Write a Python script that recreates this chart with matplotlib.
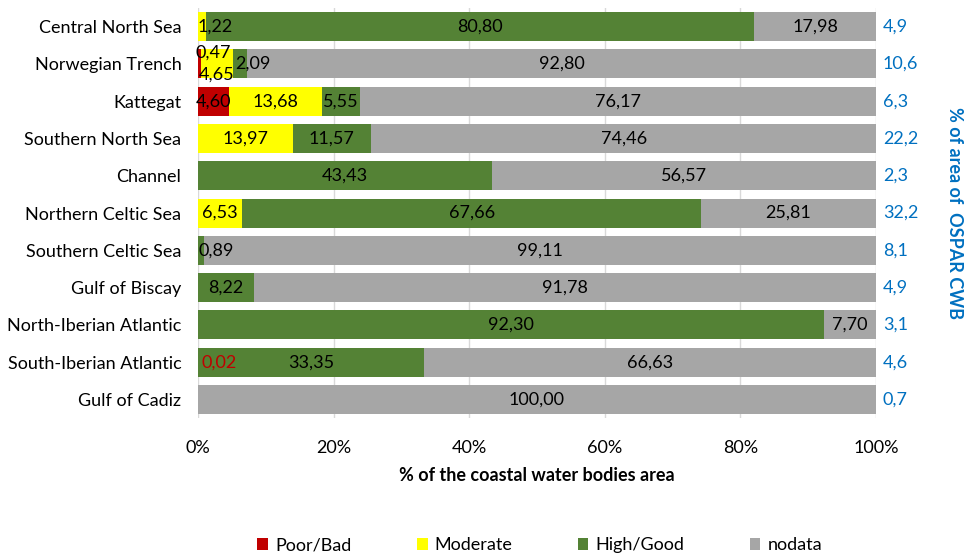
import matplotlib
matplotlib.use("Agg")
import matplotlib.pyplot as plt
import numpy as np

plt.rcParams['font.family'] = ['Lato', 'DejaVu Sans']

categories = ["Central North Sea", "Norwegian Trench", "Kattegat", "Southern North Sea",
              "Channel", "Northern Celtic Sea", "Southern Celtic Sea", "Gulf of Biscay",
              "North-Iberian Atlantic", "South-Iberian Atlantic", "Gulf of Cadiz"]
poor = [0, 0.47, 4.60, 0, 0, 0, 0, 0, 0, 0.02, 0]
moderate = [1.22, 4.65, 13.68, 13.97, 0, 6.53, 0, 0, 0, 0, 0]
good = [80.80, 2.09, 5.55, 11.57, 43.43, 67.66, 0.89, 8.22, 92.30, 33.35, 0]
nodata = [17.98, 92.80, 76.17, 74.46, 56.57, 25.81, 99.11, 91.78, 7.70, 66.63, 100.00]
area_share = ["4,9", "10,6", "6,3", "22,2", "2,3", "32,2", "8,1", "4,9", "3,1", "4,6", "0,7"]
series_names = ["Poor/Bad", "Moderate", "High/Good", "nodata"]
colors = ["#C00000", "#FFFF00", "#548235", "#A6A6A6"]
xticks = [0, 20, 40, 60, 80, 100]

FS = 13

fig = plt.figure(figsize=(9.64, 5.53), dpi=100)
ax = fig.add_axes([0.2054, 0.244, 0.7033, 0.7415])

y = np.arange(len(categories))
series = [poor, moderate, good, nodata]
left = np.zeros(len(categories))
h = 0.78
for vals, name, col in zip(series, series_names, colors):
    vals = np.array(vals, dtype=float)
    ax.barh(y, vals, left=left, height=h, color=col, label=name, zorder=2)
    for i, v in enumerate(vals):
        if v <= 0:
            continue
        txt = f"{v:.2f}".replace(".", ",")
        tcol = "black"
        yy = y[i]
        if v < 3 and not (name == "Moderate" and categories[i] == "Norwegian Trench"):
            x = left[i] + (0.3 if v > 1.5 else 0)
            ha = "left"
        else:
            x = left[i] + v / 2
            ha = "center"
        if categories[i] == "Norwegian Trench" and name == "Poor/Bad":
            yy = y[i] - 0.3
            x = left[i] - 0.4
        if categories[i] == "Norwegian Trench" and name == "Moderate":
            yy = y[i] + 0.3
        if categories[i] == "South-Iberian Atlantic" and name == "Poor/Bad":
            tcol = "#C00000"
            x = 0.5
        ax.text(x, yy, txt, ha=ha, va="center", fontsize=FS, color=tcol, zorder=3)
    left += vals

for i, s in enumerate(area_share):
    ax.text(1.01, y[i], s, transform=ax.get_yaxis_transform(), ha="left", va="center",
            fontsize=FS, color="#0070C0")

ax.set_xlim(0, 100)
ax.set_ylim(len(categories) - 0.5, -0.5)
ax.set_yticks(y)
ax.set_yticklabels(categories, fontsize=FS)
ax.set_xticks(xticks)
ax.set_xticklabels([f"{t}%" for t in xticks], fontsize=FS)
ax.tick_params(axis='y', length=0, pad=12)
ax.tick_params(axis='x', length=0, pad=16)
for sp in ax.spines.values():
    sp.set_visible(False)
ax.grid(axis='x', color="#D9D9D9", linewidth=1, zorder=0)
ax.set_axisbelow(True)
ax.set_xlabel("% of the coastal water bodies area", fontsize=FS, fontweight="bold", labelpad=8)

fig.text(0.99, 0.615, "% of area of  OSPAR CWB", rotation=-90, ha="center", va="center",
         fontsize=FS, fontweight="bold", color="#0070C0")

fig.legend(loc="lower center", bbox_to_anchor=(0.56, -0.03), ncol=4, frameon=False,
           fontsize=FS, handlelength=0.6, handleheight=0.6, handletextpad=0.4,
           columnspacing=3.6)

fig.savefig("out.png", dpi=100)
